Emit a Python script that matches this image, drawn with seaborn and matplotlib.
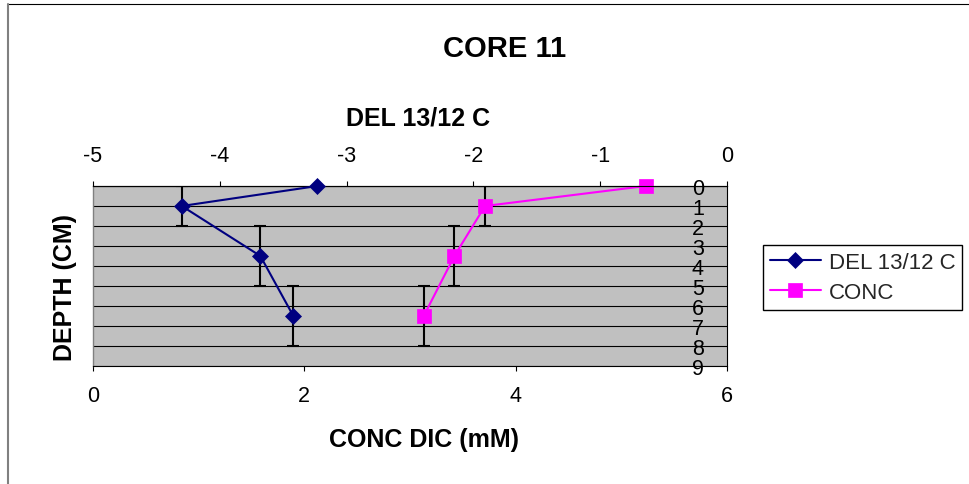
import matplotlib
matplotlib.use("Agg")
import matplotlib.pyplot as plt
import seaborn as sns
import pandas as pd
from matplotlib.lines import Line2D

# Core 11 profile: sample depths (cm) with depth-interval half widths
depth_cm = [0, 1, 3.5, 6.5]
depth_err = [0, 1, 1.5, 1.5]
del_13_12_c = [-3.23, -4.30, -3.68, -3.42]
conc_dic_mm = [5.23, 3.71, 3.42, 3.13]

depth_ticks = list(range(10))
conc_ticks = [0, 2, 4, 6]
del_ticks = [-5, -4, -3, -2, -1, 0]

sns.set_theme(style="white")
plt.rcParams["font.family"] = ["Liberation Sans", "DejaVu Sans"]

W, H = 969, 485
fig = plt.figure(figsize=(W / 100, H / 100), dpi=100)
fig.patch.set_facecolor("white")


def fx(px):
    return px / W


def fy(py):
    return 1 - py / H


NAVY = "#000080"
MAGENTA = "#FF00FF"
TICK_FS = 15.5

ax = fig.add_axes([fx(93), fy(367), fx(727) - fx(93), fy(187) - fy(367)])
ax.set_facecolor("#C0C0C0")
ax2 = ax.twiny()

df = pd.DataFrame({"depth": depth_cm, "err": depth_err,
                   "del": del_13_12_c, "conc": conc_dic_mm})
with_err = df[df["err"] > 0]

# depth-interval error bars
for a, col in ((ax, "conc"), (ax2, "del")):
    a.errorbar(with_err[col], with_err["depth"], yerr=with_err["err"],
               fmt="none", ecolor="black", elinewidth=1.5, capsize=4.5,
               capthick=1.5, zorder=2)

sns.lineplot(data=df, x="conc", y="depth", sort=False, estimator=None,
             ax=ax, color=MAGENTA, marker="s", markersize=9.5,
             markeredgecolor=MAGENTA, markeredgewidth=0.5, linewidth=1.5,
             label="CONC", zorder=3, clip_on=False)
sns.lineplot(data=df, x="del", y="depth", sort=False, estimator=None,
             ax=ax2, color=NAVY, marker="D", markersize=8.5,
             markeredgecolor=NAVY, markeredgewidth=0.5, linewidth=1.5,
             label="DEL 13/12 C", zorder=3, clip_on=False)

# axes ranges
ax.set_xlim(conc_ticks[0], conc_ticks[-1])
ax2.set_xlim(del_ticks[0], del_ticks[-1])
ax.set_ylim(depth_ticks[-1], depth_ticks[0])
ax.set_xticks(conc_ticks)
ax.set_xticklabels([str(v) for v in conc_ticks])
ax2.set_xticks(del_ticks)
ax2.set_xticklabels([str(v) for v in del_ticks])
ax.set_yticks(depth_ticks)
ax.set_yticklabels([str(v) for v in depth_ticks])
ax.set_xlabel("")
ax.set_ylabel("")
ax2.set_xlabel("")
ax2.set_ylabel("")

# horizontal depth grid
ax.grid(False)
ax2.grid(False)
ax.yaxis.grid(True, color="black", linewidth=0.8)
ax.set_axisbelow(True)

# spines
for s in ("top", "bottom", "right"):
    ax.spines[s].set_color("black")
    ax.spines[s].set_linewidth(0.8)
ax.spines["left"].set_color("#808080")
ax.spines["left"].set_linewidth(1.0)
for s in ("left", "right", "bottom"):
    ax2.spines[s].set_visible(False)
ax2.spines["top"].set_color("black")
ax2.spines["top"].set_linewidth(0.8)

# ticks
ax.tick_params(axis="x", bottom=True, direction="out", length=3.6,
               width=0.8, color="black", pad=10, labelsize=TICK_FS,
               labelcolor="black")
ax2.tick_params(axis="x", top=True, direction="out", length=3.6,
                width=0.8, color="black", pad=10.8, labelsize=TICK_FS,
                labelcolor="black")
ax.yaxis.tick_right()
ax.tick_params(axis="y", left=False, right=False, labelleft=False,
               labelright=True, length=0, pad=-20.9, labelsize=TICK_FS,
               labelcolor="black")
for t in ax.get_yticklabels():
    t.set_horizontalalignment("center")

for a in (ax, ax2):
    lg = a.get_legend()
    if lg is not None:
        lg.remove()

h2, l2 = ax2.get_legend_handles_labels()
h1, l1 = ax.get_legend_handles_labels()
fig.legend(h2 + h1, l2 + l1, loc="upper left",
           bbox_to_anchor=(fx(763), fy(246)), frameon=True, fancybox=False,
           edgecolor="black", framealpha=1, facecolor="white",
           borderaxespad=0, handlelength=2.3, handletextpad=0.35,
           borderpad=0.3, labelspacing=0.42, fontsize=16)

# titles
fig.text(fx(504.5), fy(57), "CORE 11", ha="center", va="baseline",
         fontsize=21, fontweight="bold", color="black")
fig.text(fx(418), fy(125), "DEL 13/12 C", ha="center", va="baseline",
         fontsize=18, fontweight="bold", color="black")
fig.text(fx(424), fy(447), "CONC DIC (mM)", ha="center", va="baseline",
         fontsize=18, fontweight="bold", color="black")
fig.text(fx(72), fy(287.5), "DEPTH (CM)", rotation=90,
         rotation_mode="anchor", ha="center", va="baseline",
         fontsize=18, fontweight="bold", color="black")

# chart-area border
fig.add_artist(Line2D([fx(8), 1.01], [fy(5), fy(5)],
                      transform=fig.transFigure, color="black", lw=0.8))
fig.add_artist(Line2D([fx(8), fx(8)], [fy(5), -0.01],
                      transform=fig.transFigure, color="#808080", lw=1.5))

fig.savefig("out.png", dpi=100)
